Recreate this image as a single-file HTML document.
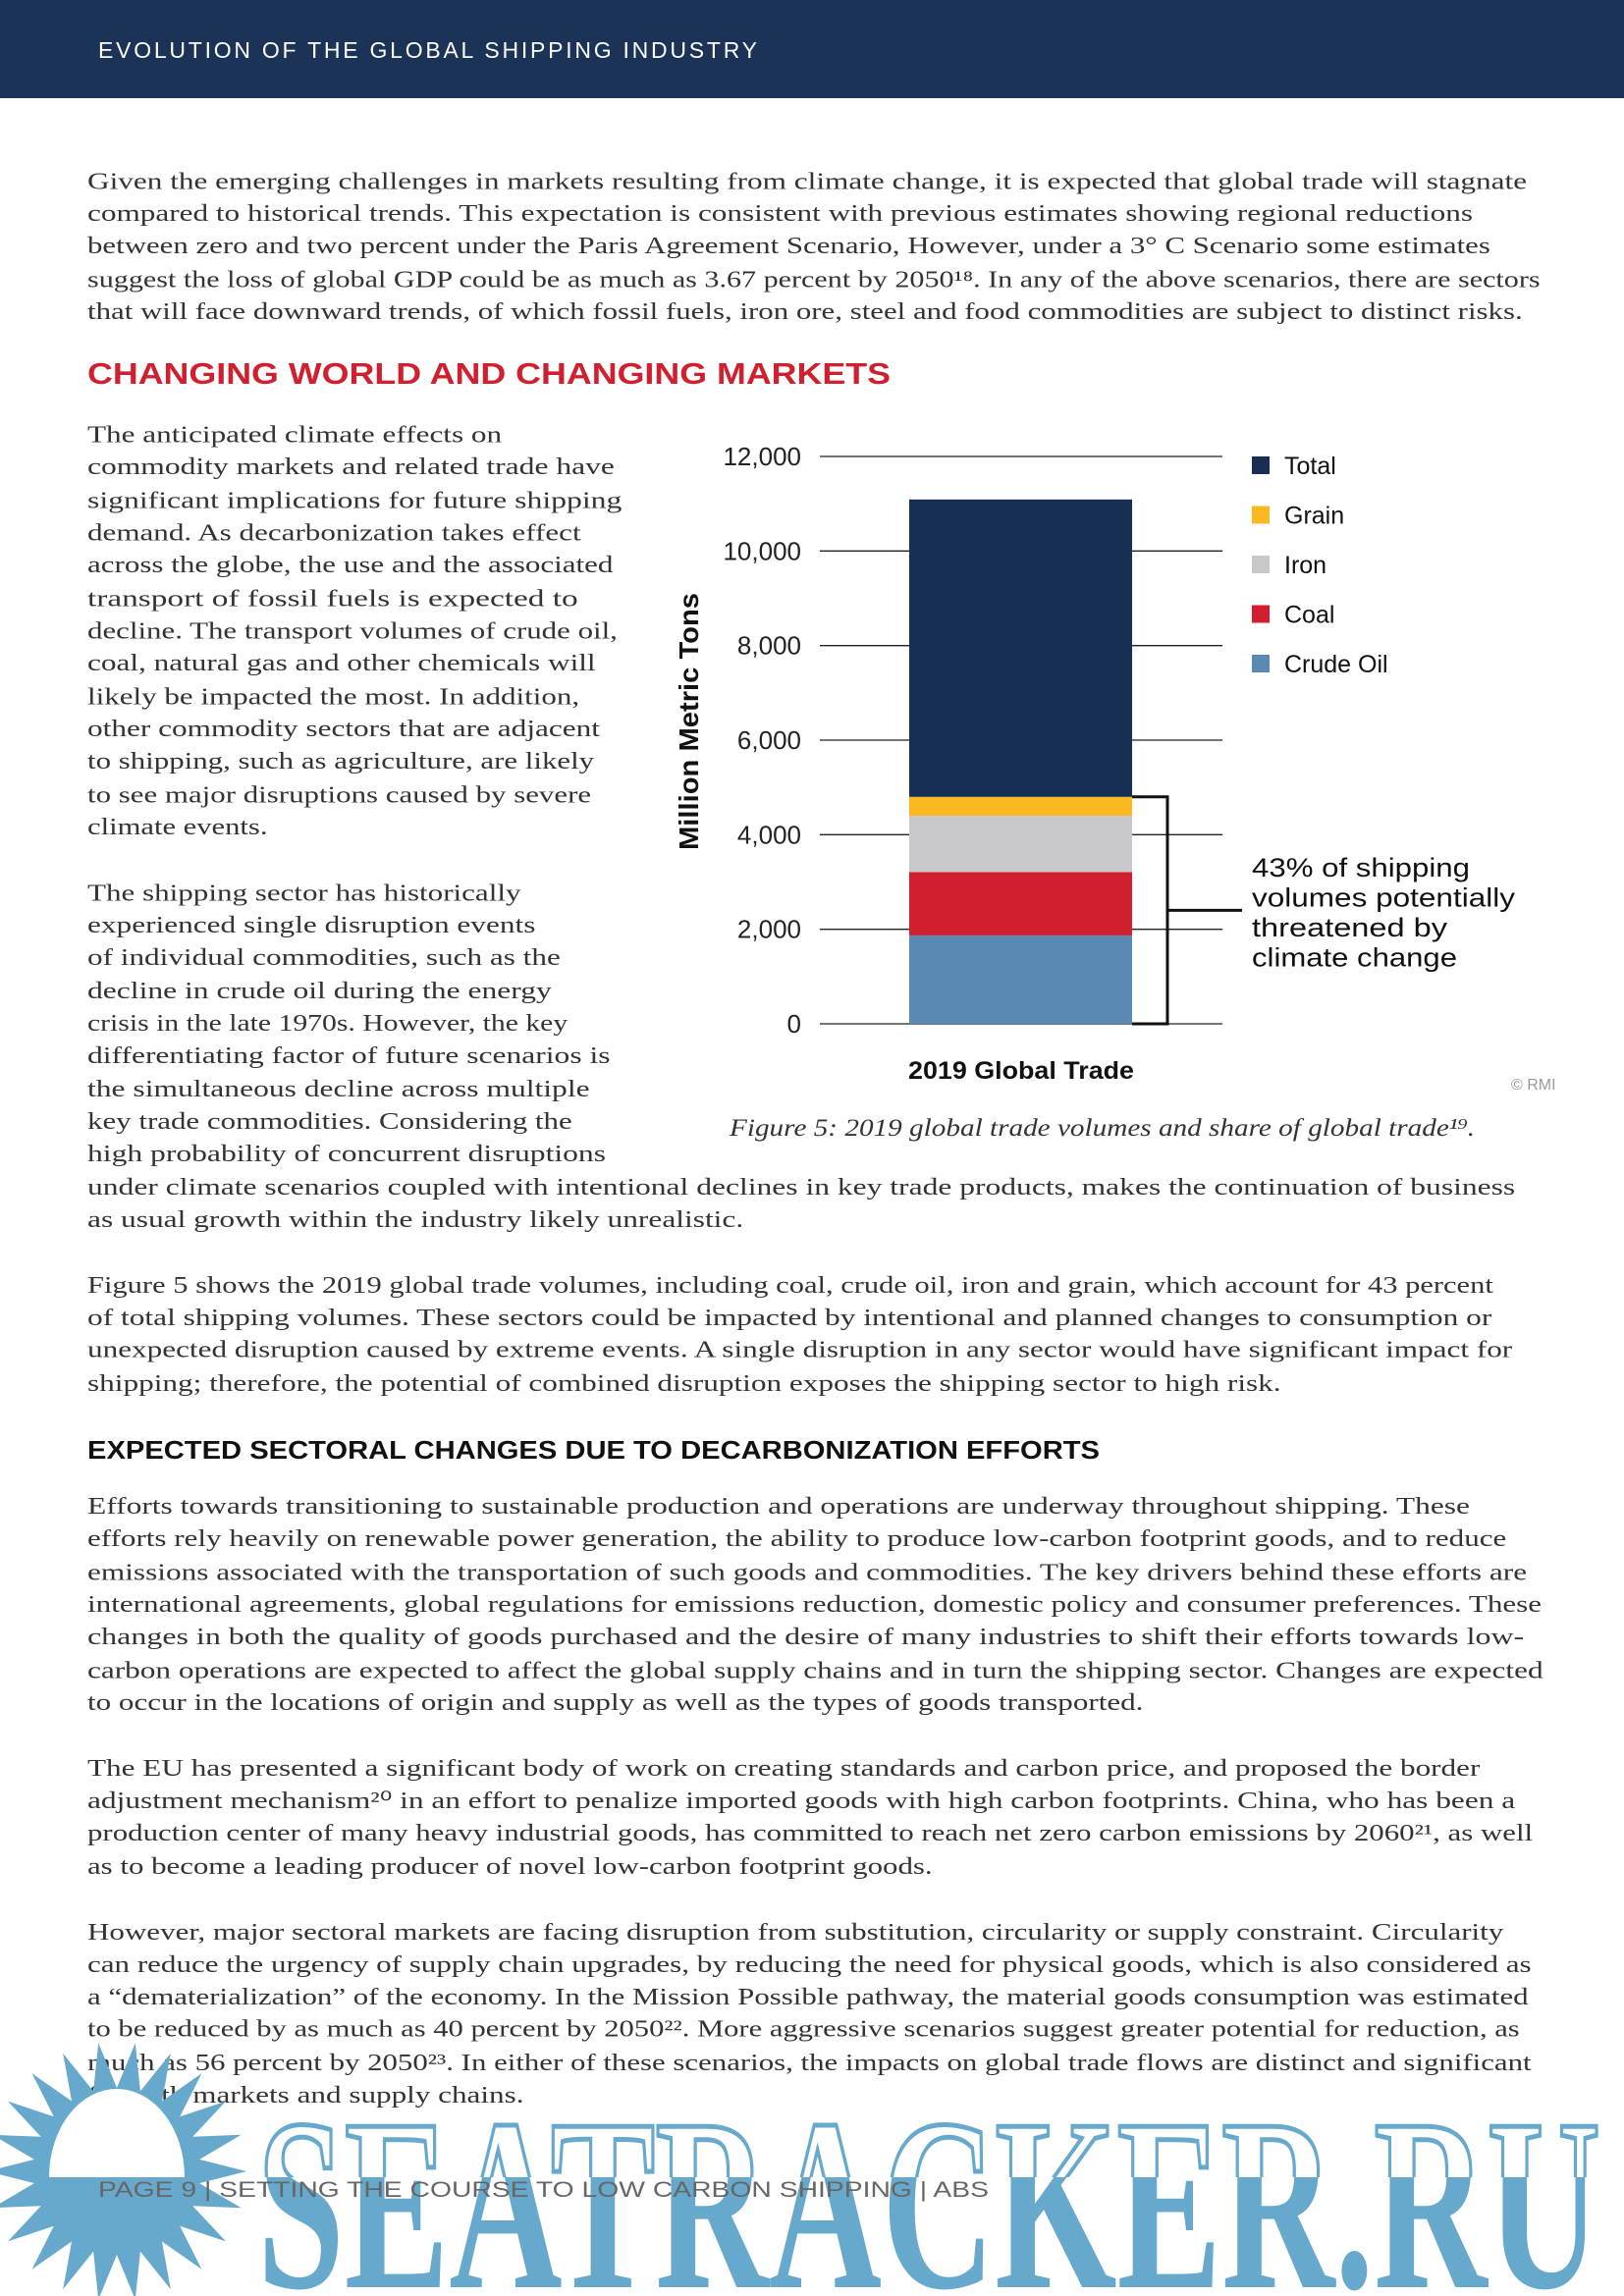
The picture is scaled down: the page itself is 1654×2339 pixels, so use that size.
<!DOCTYPE html>
<html><head><meta charset="utf-8">
<style>
html,body{margin:0;padding:0;background:#fff;}
svg{display:block;}
.body{font-family:"Liberation Serif",serif;font-size:24px;fill:#333;}
</style></head>
<body>
<svg id="page" xmlns="http://www.w3.org/2000/svg" width="1654" height="2339" viewBox="0 0 1654 2339">
<rect x="0" y="0" width="1654" height="100" fill="#1a3357"/>
<text x="100" y="59" font-family="Liberation Sans, sans-serif" font-size="23" fill="#fff" textLength="671" lengthAdjust="spacing">EVOLUTION OF THE GLOBAL SHIPPING INDUSTRY</text>
<text x="89" y="391" font-family="Liberation Sans, sans-serif" font-weight="bold" font-size="31" fill="#d0202f" textLength="818" lengthAdjust="spacingAndGlyphs">CHANGING WORLD AND CHANGING MARKETS</text>
<text x="89" y="1486" font-family="Liberation Sans, sans-serif" font-weight="bold" font-size="26" fill="#111" textLength="1031" lengthAdjust="spacingAndGlyphs">EXPECTED SECTORAL CHANGES DUE TO DECARBONIZATION EFFORTS</text>
<g id="bodytext"></g>
<g id="chart"></g>
<g id="watermark"></g>
</svg>
<script>
const NS="http://www.w3.org/2000/svg";
function mk(tag,attrs,parent,text){const e=document.createElementNS(NS,tag);for(const k in attrs)e.setAttribute(k,attrs[k]);if(text!==undefined)e.textContent=text;parent.appendChild(e);return e;}
const S=1.4915;
const lines=[
[124,1043,"Given the emerging challenges in markets resulting from climate change, it is expected that global trade will stagnate"],
[146,1006,"compared to historical trends. This expectation is consistent with previous estimates showing regional reductions"],
[168,1018,"between zero and two percent under the Paris Agreement Scenario, However, under a 3° C Scenario some estimates"],
[191,1052,"suggest the loss of global GDP could be as much as 3.67 percent by 2050¹⁸. In any of the above scenarios, there are sectors"],
[213,1040,"that will face downward trends, of which fossil fuels, iron ore, steel and food commodities are subject to distinct risks."],
[297,343,"The anticipated climate effects on"],
[319,420,"commodity markets and related trade have"],
[342,425,"significant implications for future shipping"],
[364,397,"demand. As decarbonization takes effect"],
[386,419,"across the globe, the use and the associated"],
[409,395,"transport of fossil fuels is expected to"],
[431,422,"decline. The transport volumes of crude oil,"],
[453,407,"coal, natural gas and other chemicals will"],
[476,396,"likely be impacted the most. In addition,"],
[498,410,"other commodity sectors that are adjacent"],
[520,406,"to shipping, such as agriculture, are likely"],
[543,404,"to see major disruptions caused by severe"],
[565,183,"climate events."],
[610,356,"The shipping sector has historically"],
[632,366,"experienced single disruption events"],
[654,383,"of individual commodities, such as the"],
[677,377,"decline in crude oil during the energy"],
[699,388,"crisis in the late 1970s. However, the key"],
[721,417,"differentiating factor of future scenarios is"],
[744,403,"the simultaneous decline across multiple"],
[766,391,"key trade commodities. Considering the"],
[788,414,"high probability of concurrent disruptions"],
[811,1035,"under climate scenarios coupled with intentional declines in key trade products, makes the continuation of business"],
[833,508,"as usual growth within the industry likely unrealistic."],
[878,1020,"Figure 5 shows the 2019 global trade volumes, including coal, crude oil, iron and grain, which account for 43 percent"],
[900,1019,"of total shipping volumes. These sectors could be impacted by intentional and planned changes to consumption or"],
[922,1033,"unexpected disruption caused by extreme events. A single disruption in any sector would have significant impact for"],
[945,875,"shipping; therefore, the potential of combined disruption exposes the shipping sector to high risk."],
[1029,1004,"Efforts towards transitioning to sustainable production and operations are underway throughout shipping. These"],
[1051,1029,"efforts rely heavily on renewable power generation, the ability to produce low-carbon footprint goods, and to reduce"],
[1074,1043,"emissions associated with the transportation of such goods and commodities. The key drivers behind these efforts are"],
[1096,1053,"international agreements, global regulations for emissions reduction, domestic policy and consumer preferences. These"],
[1118,1041,"changes in both the quality of goods purchased and the desire of many industries to shift their efforts towards low-"],
[1141,1054,"carbon operations are expected to affect the global supply chains and in turn the shipping sector. Changes are expected"],
[1163,781,"to occur in the locations of origin and supply as well as the types of goods transported."],
[1208,1011,"The EU has presented a significant body of work on creating standards and carbon price, and proposed the border"],
[1230,1035,"adjustment mechanism²⁰ in an effort to penalize imported goods with high carbon footprints. China, who has been a"],
[1252,1047,"production center of many heavy industrial goods, has committed to reach net zero carbon emissions by 2060²¹, as well"],
[1275,637,"as to become a leading producer of novel low-carbon footprint goods."],
[1320,1027,"However, major sectoral markets are facing disruption from substitution, circularity or supply constraint. Circularity"],
[1342,1046,"can reduce the urgency of supply chain upgrades, by reducing the need for physical goods, which is also considered as"],
[1364,1044,"a “dematerialization” of the economy. In the Mission Possible pathway, the material goods consumption was estimated"],
[1386,1038,"to be reduced by as much as 40 percent by 2050²². More aggressive scenarios suggest greater potential for reduction, as"],
[1409,1046,"much as 56 percent by 2050²³. In either of these scenarios, the impacts on global trade flows are distinct and significant"],
[1431,358,"for both markets and supply chains."]
];
const bt=document.getElementById('bodytext');
lines.forEach((l,i)=>{
  const t=mk('text',{x:89,y:((l[0]+5)*S).toFixed(1),class:'body',textLength:((l[1]-60)*S).toFixed(1),lengthAdjust:'spacingAndGlyphs'},bt,l[2]);
  
  
});

// ---------- chart ----------
const categories=["2019 Global Trade"];
const seriesNames=["Crude Oil","Coal","Iron","Grain","Total"];
const crudeOil=[1870];
const coal=[1340];
const iron=[1190];
const grain=[400];
const totalTrade=[11090];
const yTicks=[0,2000,4000,6000,8000,10000,12000];
const yTickLabels=["0","2,000","4,000","6,000","8,000","10,000","12,000"];
const legendOrder=["Total","Grain","Iron","Coal","Crude Oil"];
const colors={"Total":"#162f52","Grain":"#fbb821","Iron":"#c8c8ca","Coal":"#d11f30","Crude Oil":"#5a89b3"};
const annotationLines=["43% of shipping","volumes potentially","threatened by","climate change"];
const annotationWidths=[222,268,199,209];

const plotTop=465,plotBottom=1043,yMax=12000;
const gridX0=835,gridX1=1245,barX0=926,barX1=1153;
const yS=v=>plotBottom-v/yMax*(plotBottom-plotTop);
const ch=document.getElementById('chart');
yTicks.forEach((v,i)=>{
  const g=mk('line',{x1:gridX0,x2:gridX1,y1:yS(v),y2:yS(v),stroke:'#222','stroke-width':1.3},ch);
  
  
  const t=mk('text',{x:816,y:yS(v)+9,'text-anchor':'end','font-family':'Liberation Sans, sans-serif','font-size':26,fill:'#222'},ch,yTickLabels[i]);
  
  
});
const yt=mk('text',{x:0,y:0,transform:'translate(711,735) rotate(-90)','text-anchor':'middle','font-family':'Liberation Sans, sans-serif','font-weight':'bold','font-size':28,fill:'#111',textLength:262,lengthAdjust:'spacingAndGlyphs'},ch,'Million Metric Tons');



categories.forEach((c,ci)=>{
  const stack=[["Crude Oil",crudeOil[ci]],["Coal",coal[ci]],["Iron",iron[ci]],["Grain",grain[ci]]];
  let base=0;
  stack.forEach(([n,v])=>{
    const r=mk('rect',{x:barX0,width:barX1-barX0,y:yS(base+v),height:yS(base)-yS(base+v),fill:colors[n]},ch);
    
    
    base+=v;
  });
  const threatened=base;
  const r=mk('rect',{x:barX0,width:barX1-barX0,y:yS(totalTrade[ci]),height:yS(threatened)-yS(totalTrade[ci]),fill:colors["Total"]},ch);
  
  
  const bx=1189;
  const br=mk('path',{d:`M${barX1},${yS(threatened)} H${bx} V${yS(0)} H${barX1} M${bx},${yS(threatened/2)} H1265`,fill:'none',stroke:'#111','stroke-width':3},ch);
  
  
  const xl=mk('text',{x:barX0-1,y:1099,'font-family':'Liberation Sans, sans-serif','font-weight':'bold','font-size':25,fill:'#111',textLength:230,lengthAdjust:'spacingAndGlyphs'},ch,c);
  
  
});
annotationLines.forEach((s,i)=>{
  const t=mk('text',{x:1275,y:893+i*30.5,'font-family':'Liberation Sans, sans-serif','font-size':27,fill:'#111',textLength:annotationWidths[i],lengthAdjust:'spacingAndGlyphs'},ch,s);
  
  
});
legendOrder.forEach((n,i)=>{
  const cy=474+i*50.5;
  const sq=mk('rect',{x:1275,y:cy-9,width:18,height:18,fill:colors[n]},ch);
  
  
  const t=mk('text',{x:1308,y:cy+9,'font-family':'Liberation Sans, sans-serif','font-size':25,fill:'#111'},ch,n);
  
  
});
const rmi=mk('text',{x:1539,y:1110,'font-family':'Liberation Sans, sans-serif','font-size':16,fill:'#999'},ch,'© RMI');


const cap=mk('text',{x:743,y:1157,'font-family':'Liberation Serif, serif','font-style':'italic','font-size':25,fill:'#333',textLength:759,lengthAdjust:'spacingAndGlyphs'},ch,'Figure 5: 2019 global trade volumes and share of global trade¹⁹.');



// ---------- watermark & footer ----------
const wm=document.getElementById('watermark');
let pts=[];const cx=119,cy=2212,N=22;
for(let i=0;i<N*2;i++){const a=i*Math.PI/N;const r=i%2?85:132;pts.push((cx+r*Math.cos(a)).toFixed(1)+','+(cy+r*Math.sin(a)).toFixed(1));}
const star=mk('polygon',{points:pts.join(' '),fill:'#66a9cc'},wm);


const dome=mk('path',{d:`M50,2218 A69,90 0 0 1 188,2218 Z`,fill:'#fff'},wm);


const defs=mk('defs',{},wm);
const cp=mk('clipPath',{id:'lowerHalf'},defs);
mk('rect',{x:0,y:2218,width:1654,height:200},cp);
const cpu=mk('clipPath',{id:'upperHalf'},defs);
mk('rect',{x:0,y:2100,width:1654,height:118},cpu);
const wt1=mk('text',{x:262,y:2330,'font-family':'Liberation Serif, serif','font-weight':'bold','font-size':250,fill:'#fff',stroke:'#66a9cc','stroke-width':5,textLength:1368,lengthAdjust:'spacingAndGlyphs','clip-path':'url(#upperHalf)'},wm,'SEATRACKER.RU');


const wt2=mk('text',{x:262,y:2330,'font-family':'Liberation Serif, serif','font-weight':'bold','font-size':250,fill:'#66a9cc',textLength:1368,lengthAdjust:'spacingAndGlyphs','clip-path':'url(#lowerHalf)'},wm,'SEATRACKER.RU');


const ft=mk('text',{x:100,y:2238,'font-family':'Liberation Sans, sans-serif','font-size':22,fill:'#666',textLength:907,lengthAdjust:'spacingAndGlyphs'},wm,'PAGE 9   |   SETTING THE COURSE TO LOW CARBON SHIPPING   |   ABS');


</script>
</body></html>
